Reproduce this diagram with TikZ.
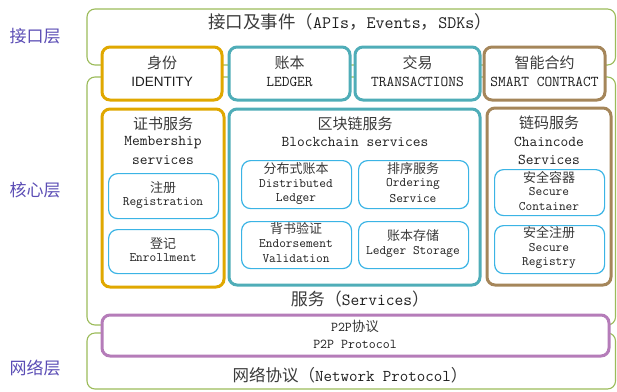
\documentclass[tikz,border=0pt]{standalone}
\usepackage{fontspec}
\newfontfamily\cjkf{Noto Sans CJK SC}
\newfontfamily\sansen{Liberation Sans}
\definecolor{lgreen}{HTML}{9BBB59}
\definecolor{gold}{HTML}{E0A800}
\definecolor{teal}{HTML}{4FADB8}
\definecolor{tan}{HTML}{A5865A}
\definecolor{purp}{HTML}{B57CB9}
\definecolor{lblue}{HTML}{3BB4E5}
\definecolor{lab}{HTML}{5B4DB5}
\definecolor{txt}{HTML}{1E1E1E}
\definecolor{cjktxt}{HTML}{3A3A3A}
\newcommand{\cjk}{\cjkf\color{cjktxt}}
\newcommand{\fs}[1]{\fontsize{#1}{#1}\selectfont}
\tikzset{
  layer/.style={draw=lgreen, line width=1.1pt, rounded corners=8pt},
  thick box/.style={line width=3pt, rounded corners=8pt, fill=white},
  goldbox/.style={thick box, draw=gold},
  tealbox/.style={thick box, draw=teal},
  tanbox/.style={thick box, draw=tan},
  purpbox/.style={thick box, draw=purp},
  innerbox/.style={draw=lblue, line width=1.2pt, rounded corners=9pt, fill=white},
  txtnode/.style={text=txt, align=center, inner sep=0pt, font=\ttfamily},
  layerlab/.style={text=lab, inner sep=0pt, font=\cjkf\fs{17}},
}
\begin{document}
\begin{tikzpicture}[x=1pt,y=-1pt]
\useasboundingbox (0,0) rectangle (617,391);
% layers
\draw[layer] (87,9) rectangle (615.5,65);
\draw[layer] (87,77) rectangle (615.5,325);
\draw[layer] (87,333) rectangle (615.5,389);
\node[layerlab] (l1) at (35,36) {接口层};
\node[layerlab] (l2) at (35,190) {核心层};
\node[layerlab] (l3) at (35,368) {网络层};
\node[txtnode, font=\ttfamily\fs{17.5}] (title) at (350,22) {{\cjk 接口及事件（}APIs{\cjk ，}Events{\cjk ，}SDKs{\cjk ）}};
% interface boxes
\path[goldbox] (102,47) rectangle (222,100);
\path[tealbox] (229,47) rectangle (350,100);
\path[tealbox] (355,47) rectangle (480,100);
\path[tanbox] (484,47) rectangle (605,100);
\node[txtnode] (id1) at (162,63) {\cjk\fs{15}身份};
\node[txtnode] (id2) at (162,82) {\sansen\fs{13.5}IDENTITY};
\node[txtnode] (le1) at (289.5,63) {\cjk\fs{15}账本};
\node[txtnode] (le2) at (289.5,82) {\fs{15}LEDGER};
\node[txtnode] (tr1) at (417.5,63) {\cjk\fs{15}交易};
\node[txtnode] (tr2) at (417.5,82) {\fs{15}TRANSACTIONS};
\node[txtnode] (sm1) at (544.5,63) {\cjk\fs{15}智能合约};
\node[txtnode] (sm2) at (544.5,82) {\fs{15}SMART CONTRACT};
% membership
\path[goldbox] (102,109) rectangle (224,287);
\node[txtnode] (m1) at (163,124) {\cjk\fs{15}证书服务};
\node[txtnode] (m2) at (163,143) {\fs{15}Membership};
\node[txtnode] (m3) at (163,160) {\fs{15}services};
\node[innerbox, minimum width=110pt, minimum height=45pt, anchor=north west] (reg) at (108,173) {};
\node[txtnode] (reg1) at (163,188) {\cjk\fs{13}注册};
\node[txtnode] (reg2) at (163,203) {\fs{13}Registration};
\node[innerbox, minimum width=110pt, minimum height=44pt, anchor=north west] (enr) at (108,229) {};
\node[txtnode] (enr1) at (163,243) {\cjk\fs{13}登记};
\node[txtnode] (enr2) at (163,258) {\fs{13}Enrollment};
% blockchain
\path[tealbox] (229,109) rectangle (480,285);
\node[txtnode] (b1) at (355,124) {\cjk\fs{15}区块链服务};
\node[txtnode] (b2) at (355,142) {\fs{15}Blockchain services};
\node[innerbox, minimum width=110pt, minimum height=48pt, anchor=north west] (dl) at (241,160) {};
\node[txtnode] (dl1) at (296,169) {\cjk\fs{13}分布式账本};
\node[txtnode] (dl2) at (296,184) {\fs{13}Distributed};
\node[txtnode] (dl3) at (296,199) {\fs{13}Ledger};
\node[innerbox, minimum width=110pt, minimum height=48pt, anchor=north west] (ord) at (358,160) {};
\node[txtnode] (or1) at (413,169) {\cjk\fs{13}排序服务};
\node[txtnode] (or2) at (413,184) {\fs{13}Ordering};
\node[txtnode] (or3) at (413,199) {\fs{13}Service};
\node[innerbox, minimum width=110pt, minimum height=47pt, anchor=north west] (endo) at (241,221) {};
\node[txtnode] (en1) at (296,229) {\cjk\fs{13}背书验证};
\node[txtnode] (en2) at (296,244) {\fs{13}Endorsement};
\node[txtnode] (en3) at (296,259) {\fs{13}Validation};
\node[innerbox, minimum width=110pt, minimum height=47pt, anchor=north west] (ls) at (358,221) {};
\node[txtnode] (ls1) at (413,236) {\cjk\fs{13}账本存储};
\node[txtnode] (ls2) at (413,252) {\fs{13}Ledger Storage};
% chaincode
\path[tanbox] (487,108) rectangle (611,285);
\node[txtnode] (c1) at (549,123) {\cjk\fs{15}链码服务};
\node[txtnode] (c2) at (549,142) {\fs{15}Chaincode};
\node[txtnode] (c3) at (549,160) {\fs{15}Services};
\node[innerbox, minimum width=110pt, minimum height=46pt, anchor=north west] (sc) at (494,169) {};
\node[txtnode] (sc1) at (549,177) {\cjk\fs{13}安全容器};
\node[txtnode] (sc2) at (549,192) {\fs{13}Secure};
\node[txtnode] (sc3) at (549,207) {\fs{13}Container};
\node[innerbox, minimum width=110pt, minimum height=48pt, anchor=north west] (sr) at (494,225) {};
\node[txtnode] (sr1) at (549,233) {\cjk\fs{13}安全注册};
\node[txtnode] (sr2) at (549,248) {\fs{13}Secure};
\node[txtnode] (sr3) at (549,263) {\fs{13}Registry};
% services
\node[txtnode] (svc) at (360,299) {\fs{17}{\cjk 服务（}Services{\cjk ）}};
% p2p
\path[purpbox] (102,315) rectangle (609,356);
\node[txtnode] (p1) at (355,326) {\fs{13.5}P2P{\cjk 协议}};
\node[txtnode] (p2) at (355,344) {\fs{13.5}P2P Protocol};
\node[txtnode] (net) at (350,375) {\fs{16.5}{\cjk 网络协议（}Network Protocol{\cjk ）}};
\end{tikzpicture}
\end{document}
